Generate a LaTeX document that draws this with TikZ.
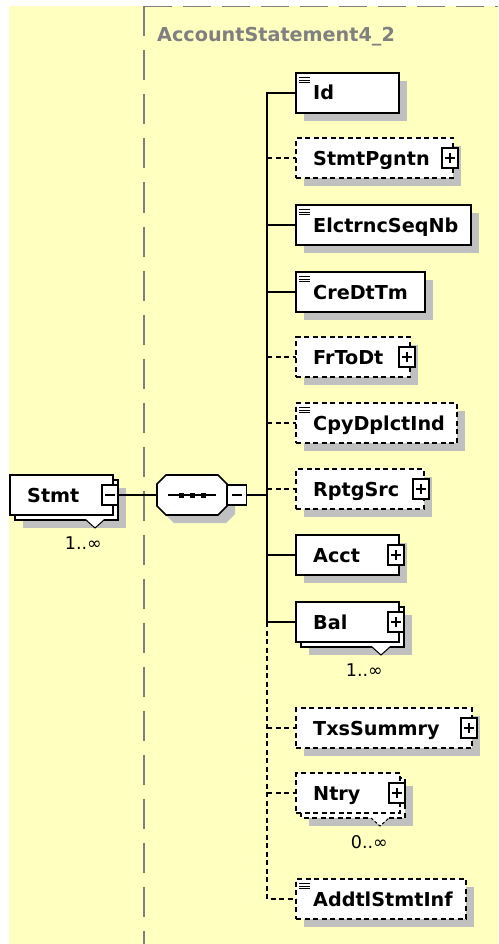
\documentclass[tikz,border=0pt]{standalone}
\usepackage{fontspec}
\setmainfont{DejaVu Sans}
\usetikzlibrary{calc}
\definecolor{bgyellow}{RGB}{255,255,192}
\definecolor{shadowgray}{RGB}{192,192,192}
\definecolor{framegray}{RGB}{128,128,128}
\tikzset{
  elbox/.style={draw=black, fill=white, line width=1.6pt, rectangle, inner sep=0pt, outer sep=0pt, minimum height=40pt},
  optbox/.style={elbox, dash pattern=on 5pt off 3.5pt},
  lbl/.style={font=\fontsize{19.2}{21}\selectfont\bfseries, inner sep=0pt, anchor=base west},
  multlbl/.style={font=\fontsize{17.5}{18}\selectfont, inner sep=0pt, anchor=east},
  conn/.style={line width=1.6pt},
  optconn/.style={line width=1.6pt, dash pattern=on 5pt off 3.5pt},
  btn/.style={draw=black, fill=white, line width=1.2pt, minimum width=16pt, minimum height=20pt, inner sep=0pt, outer sep=0pt},
  sign/.style={line width=1.3pt},
  iconl/.style={line width=0.9pt},
}
\newcommand\xelem[6]{%
  \fill[shadowgray] (#2+8,#3+8) rectangle (#4+8,#3+48);
  \node[#5, anchor=north west, minimum width={(#4-#2)*1pt}] (#1) at (#2,#3) {};
  \node[lbl] (#1-t) at (#2+17,#3+27) {#6};
  \coordinate (t-#1) at (267,#3+20);
}
\newcommand\xstelem[6]{%
  \fill[shadowgray] (#2+13,#3+13) rectangle (#4+13,#3+53);
  \draw[#5] (#2+5,#3+5) rectangle (#4+5,#3+45);
  \node[#5, anchor=north west, minimum width={(#4-#2)*1pt}] (#1) at (#2,#3) {};
  \node[lbl] (#1-t) at (#2+17,#3+27) {#6};
  \coordinate (t-#1) at (267,#3+20);
}
\newcommand\xicon[1]{%
  \draw[iconl] ([shift={(3,4.5)}]#1.north west) -- ++(11,0)
               ([shift={(3,7)}]#1.north west) -- ++(11,0)
               ([shift={(3,9.5)}]#1.north west) -- ++(11,0);
}
\newcommand\xplus[1]{%
  \node[btn] (#1-b) at ([xshift=-3pt]#1.east) {};
  \draw[sign] ([xshift=-5pt]#1-b.center) -- ([xshift=5pt]#1-b.center)
              ([yshift=-5pt]#1-b.center) -- ([yshift=5pt]#1-b.center);
}
\newcommand\xtri[3]{%
  \fill[white] (#1-9,#2-0.8) -- (#1,#2+8) -- (#1+9,#2-0.8) -- cycle;
  \draw[line width=1pt,#3] (#1-9,#2) -- (#1,#2+8) -- (#1+9,#2);
}
\begin{document}
\begin{tikzpicture}[x=1pt,y=-1pt]
\useasboundingbox (0,0) rectangle (498,944);
\fill[bgyellow] (9,6) rectangle (498,944);
\draw[framegray, line width=1.3pt, dash pattern=on 28pt off 11pt] (144,6.5) -- (498,6.5);
\draw[framegray, line width=1.3pt, dash pattern=on 30pt off 14pt] (144,6.5) -- (144,944);
\node[lbl, text=framegray] (title) at (157,42) {AccountStatement4\_2};

% root element Stmt
\fill[shadowgray] (23,488) rectangle (126,528);
\draw[elbox] (15,480) rectangle (118,520);
\node[elbox, anchor=north west, minimum width=103pt] (stmt) at (10,475) {};
\node[lbl] (stmt-t) at (27,502) {Stmt};
\node[btn] (stmt-b) at ([xshift=-3pt]stmt.east) {};
\draw[sign] ([xshift=-5pt]stmt-b.center) -- ([xshift=5pt]stmt-b.center);
\xtri{95}{520}{}
\node[multlbl] (stmt-m) at (102,543) {1..∞};

% sequence compositor
\node[inner sep=0pt, outer sep=0pt, minimum width=70pt, minimum height=40pt] (seq) at (192,495) {};
\fill[shadowgray] (174,483) -- (226,483) -- (235,492) -- (235,514) -- (226,523) -- (174,523) -- (165,514) -- (165,492) -- cycle;
\draw[elbox] (166,475) -- (218,475) -- (227,484) -- (227,506) -- (218,515) -- (166,515) -- (157,506) -- (157,484) -- cycle;
\draw[line width=1.5pt] (168,495) -- (216,495);
\fill (178.5,492.5) rectangle +(5,5);
\fill (189.5,492.5) rectangle +(5,5);
\fill (200.5,492.5) rectangle +(5,5);
\node[btn, minimum width=19pt] (seq-b) at (237,495) {};
\draw[sign] ([xshift=-5pt]seq-b.center) -- ([xshift=5pt]seq-b.center);
\coordinate (tj) at (267,495);

% children
\xelem{id}{296}{73}{399}{elbox}{Id}
\xicon{id}
\xelem{pg}{296}{138}{453}{optbox}{StmtPgntn}
\xplus{pg}
\xelem{el}{296}{205}{471}{elbox}{ElctrncSeqNb}
\xicon{el}
\xelem{cr}{296}{272}{425}{elbox}{CreDtTm}
\xicon{cr}
\xelem{fr}{296}{337}{410}{optbox}{FrToDt}
\xplus{fr}
\xelem{cp}{296}{403}{457}{optbox}{CpyDplctInd}
\xicon{cp}
\xelem{rp}{296}{469}{424}{optbox}{RptgSrc}
\xplus{rp}
\xelem{ac}{296}{535}{399}{elbox}{Acct}
\xplus{ac}
\xstelem{bal}{296}{602}{399}{elbox}{Bal}
\xplus{bal}
\xtri{381}{647}{}
\node[multlbl] (bal-m) at (383,670) {1..∞};
\xelem{tx}{296}{708}{472}{optbox}{TxsSummry}
\xplus{tx}
\xstelem{nt}{296}{773}{400}{optbox}{Ntry}
\xplus{nt}
\xtri{380}{818}{dash pattern=on 3pt off 2pt}
\node[multlbl] (nt-m) at (388,842) {0..∞};
\xelem{ad}{296}{879}{466}{optbox}{AddtlStmtInf}
\xicon{ad}

% connectors
\draw[conn] (stmt-b.east) -- (seq.west);
\draw[conn] (seq-b.east) -- (tj);
\draw[conn] (id.west) -- (t-id) -- (t-bal) -- (bal.west);
\draw[optconn] (t-bal) -- (t-ad) -- (ad.west);
\draw[optconn] (t-pg) -- (pg.west);
\draw[conn] (t-el) -- (el.west);
\draw[conn] (t-cr) -- (cr.west);
\draw[optconn] (t-fr) -- (fr.west);
\draw[optconn] (t-cp) -- (cp.west);
\draw[optconn] (t-rp) -- (rp.west);
\draw[conn] (t-ac) -- (ac.west);
\draw[optconn] (t-tx) -- (tx.west);
\draw[optconn] (t-nt) -- (nt.west);
\end{tikzpicture}
\end{document}
